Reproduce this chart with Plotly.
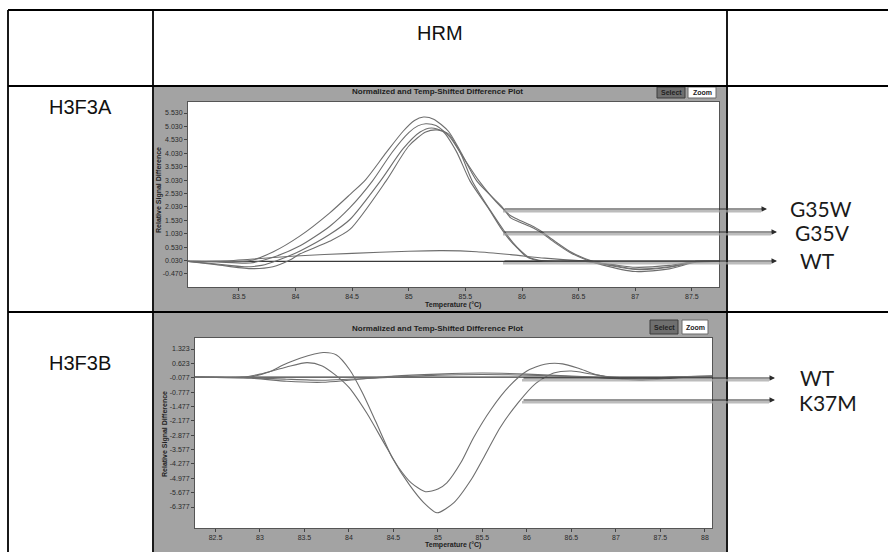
import plotly.graph_objects as go

W, H = 888, 552

# ---------------- data: H3F3A (top plot) ----------------
top_t_base = [83.05, 87.74]
top_s_base = [0.0, 0.0]

top_t_wt = [83.05, 83.3, 83.6, 84.0, 84.5, 85.0, 85.3, 85.6, 85.9, 86.2, 86.5, 86.8, 87.74]
top_s_wt = [0.0, 0.0, 0.08, 0.2, 0.3, 0.38, 0.4, 0.36, 0.25, 0.12, 0.03, 0.0, 0.0]

top_t_w1 = [83.05, 83.3, 83.6, 83.8, 84.04, 84.3, 84.48, 84.62, 84.8, 84.95, 85.05, 85.13, 85.22, 85.35,
            85.45, 85.6, 85.82, 85.9, 85.97, 86.1, 86.16, 86.29, 86.42, 86.56, 86.7, 87.0, 87.3, 87.54, 87.74]
top_s_w1 = [0.0, 0.0, 0.03, 0.35, 0.95, 1.8, 2.49, 3.05, 4.05, 4.85, 5.25, 5.38, 5.3, 4.85,
            4.15, 3.0, 2.05, 1.62, 1.48, 1.24, 1.1, 0.7, 0.34, 0.07, -0.12, -0.38, -0.28, -0.02, 0.0]

top_t_w2 = [83.05, 83.3, 83.6, 83.8, 84.04, 84.3, 84.48, 84.68, 84.85, 85.0, 85.08, 85.15, 85.24, 85.36,
            85.47, 85.62, 85.82, 85.9, 85.97, 86.1, 86.16, 86.29, 86.42, 86.56, 86.7, 87.0, 87.3, 87.54, 87.74]
top_s_w2 = [0.0, -0.02, -0.06, 0.15, 0.58, 1.3, 2.0, 3.0, 4.05, 4.8, 5.05, 5.13, 5.06, 4.65,
            3.95, 3.0, 2.0, 1.7, 1.55, 1.3, 1.15, 0.75, 0.38, 0.1, -0.08, -0.3, -0.22, 0.0, 0.0]

top_t_v1 = [83.05, 83.3, 83.55, 83.7, 83.85, 84.04, 84.3, 84.48, 84.75, 84.95, 85.1, 85.2, 85.3, 85.42,
            85.54, 85.7, 85.82, 85.9, 85.97, 86.03, 86.1, 86.2, 86.56, 86.8, 87.0, 87.3, 87.54, 87.74]
top_s_v1 = [0.0, -0.1, -0.2, -0.15, 0.05, 0.39, 1.0, 1.56, 3.0, 4.2, 4.82, 4.97, 4.85, 4.1,
            3.0, 2.0, 1.2, 0.75, 0.45, 0.2, 0.07, 0.01, 0.0, -0.12, -0.22, -0.15, 0.0, 0.0]

top_t_v2 = [83.05, 83.3, 83.6, 83.8, 83.95, 84.04, 84.3, 84.48, 84.8, 85.0, 85.15, 85.25, 85.35, 85.46,
            85.56, 85.72, 85.84, 85.92, 86.0, 86.06, 86.15, 86.3, 86.56, 86.8, 87.0, 87.3, 87.54, 87.74]
top_s_v2 = [0.0, -0.12, -0.27, -0.2, 0.05, 0.28, 0.75, 1.19, 3.0, 4.3, 4.82, 4.9, 4.75, 4.0,
            3.0, 1.9, 1.15, 0.7, 0.35, 0.15, 0.04, 0.0, 0.0, -0.15, -0.28, -0.2, -0.02, 0.0]

top_x_ticks = [83.5, 84, 84.5, 85, 85.5, 86, 86.5, 87, 87.5]
top_x_labels = ["83.5", "84", "84.5", "85", "85.5", "86", "86.5", "87", "87.5"]
top_y_ticks = [5.53, 5.03, 4.53, 4.03, 3.53, 3.03, 2.53, 2.03, 1.53, 1.03, 0.53, 0.03, -0.47]
top_y_labels = ["5.530", "5.030", "4.530", "4.030", "3.530", "3.030", "2.530", "2.030",
                "1.530", "1.030", "0.530", "0.030", "-0.470"]

# ---------------- data: H3F3B (bottom plot) ----------------
bot_t_base = [82.27, 88.08]
bot_s_base = [-0.05, -0.05]

bot_t_wt1 = [82.27, 82.9, 83.3, 83.7, 84.0, 84.5, 85.0, 85.5, 86.0, 86.5, 87.0, 87.3, 87.7, 88.08]
bot_s_wt1 = [-0.05, -0.1, -0.25, -0.3, -0.2, 0.0, 0.1, 0.15, 0.1, 0.0, -0.1, -0.15, -0.05, 0.0]

bot_t_wt2 = [82.27, 82.9, 83.3, 83.7, 84.0, 84.5, 85.0, 85.5, 86.0, 86.5, 87.0, 87.3, 87.7, 88.08]
bot_s_wt2 = [-0.05, -0.08, -0.15, -0.2, -0.15, -0.05, 0.05, 0.08, 0.05, -0.02, -0.12, -0.2, -0.08, -0.02]

bot_t_k1 = [82.27, 82.8, 83.0, 83.3, 83.53, 83.7, 83.85, 84.0, 84.2, 84.4, 84.55, 84.7, 84.86,
            85.0, 85.1, 85.26, 85.4, 85.6, 85.8, 86.0, 86.2, 86.4, 86.6, 86.8, 87.0, 87.3, 87.6, 88.08]
bot_s_k1 = [-0.05, -0.05, 0.1, 0.45, 0.66, 0.5, 0.05, -0.55, -1.8, -3.3, -4.4, -5.2, -5.63,
            -5.5, -5.2, -4.2, -3.0, -1.6, -0.5, 0.25, 0.58, 0.6, 0.35, 0.05, -0.1, -0.15, -0.05, 0.0]

bot_t_k2 = [82.27, 82.9, 83.1, 83.26, 83.45, 83.71, 83.86, 84.01, 84.15, 84.3, 84.49, 84.68, 84.84,
            84.99, 85.18, 85.38, 85.51, 85.7, 85.9, 86.1, 86.3, 86.5, 86.7, 86.9, 87.2, 87.5, 87.8, 88.08]
bot_s_k2 = [-0.05, -0.03, 0.2, 0.54, 0.87, 1.15, 1.03, 0.3, -0.8, -2.2, -4.0, -5.3, -6.16,
            -6.66, -6.16, -5.0, -4.0, -2.5, -1.3, -0.35, 0.15, 0.25, 0.12, -0.02, -0.1, -0.08, -0.02, 0.0]

bot_x_ticks = [82.5, 83, 83.5, 84, 84.5, 85, 85.5, 86, 86.5, 87, 87.5, 88]
bot_x_labels = ["82.5", "83", "83.5", "84", "84.5", "85", "85.5", "86", "86.5", "87", "87.5", "88"]
bot_y_ticks = [1.323, 0.623, -0.077, -0.777, -1.477, -2.177, -2.877, -3.577, -4.277, -4.977, -5.677, -6.377]
bot_y_labels = ["1.323", "0.623", "-0.077", "-0.777", "-1.477", "-2.177", "-2.877", "-3.577",
                "-4.277", "-4.977", "-5.677", "-6.377"]

row_labels = ["H3F3A", "H3F3B"]
header = "HRM"
top_arrow_labels = ["G35W", "G35V", "WT"]
bot_arrow_labels = ["WT", "K37M"]


def px(x):
    return x / W


def py(y):
    return 1 - y / H


fig = go.Figure()

curve_color = "#6e6e6e"
base_color = "#3a3a3a"

top_series = [(top_t_base, top_s_base, base_color), (top_t_wt, top_s_wt, curve_color),
              (top_t_w1, top_s_w1, curve_color), (top_t_w2, top_s_w2, curve_color),
              (top_t_v1, top_s_v1, curve_color), (top_t_v2, top_s_v2, curve_color)]
for t, s, c in top_series:
    fig.add_trace(go.Scatter(x=t, y=s, mode="lines", xaxis="x", yaxis="y",
                             line=dict(color=c, width=1.1, shape="spline", smoothing=0.7),
                             showlegend=False, hoverinfo="skip"))

bot_series = [(bot_t_base, bot_s_base, base_color), (bot_t_wt1, bot_s_wt1, curve_color),
              (bot_t_wt2, bot_s_wt2, curve_color), (bot_t_k1, bot_s_k1, curve_color),
              (bot_t_k2, bot_s_k2, curve_color)]
for t, s, c in bot_series:
    fig.add_trace(go.Scatter(x=t, y=s, mode="lines", xaxis="x2", yaxis="y2",
                             line=dict(color=c, width=1.1, shape="spline", smoothing=0.7),
                             showlegend=False, hoverinfo="skip"))

tick_font = dict(family="Liberation Sans", size=7, color="#2a2a2a")
axis_common = dict(showgrid=False, zeroline=False, showline=True, linecolor="#555555",
                   linewidth=1, mirror=True, ticks="outside", ticklen=3, tickcolor="#444444",
                   tickfont=tick_font, fixedrange=True)

fig.update_layout(
    width=W, height=H, margin=dict(l=0, r=0, t=0, b=0),
    paper_bgcolor="white", plot_bgcolor="rgba(0,0,0,0)",
    xaxis=dict(domain=[px(188), px(719)], range=[83.05, 87.74], anchor="y",
               tickvals=top_x_ticks, ticktext=top_x_labels, **axis_common),
    yaxis=dict(domain=[py(287), py(102)], range=[-0.955, 5.94], anchor="x",
               tickvals=top_y_ticks, ticktext=top_y_labels, **axis_common),
    xaxis2=dict(domain=[px(195), px(712)], range=[82.27, 88.08], anchor="y2",
                tickvals=bot_x_ticks, ticktext=bot_x_labels, **axis_common),
    yaxis2=dict(domain=[py(528), py(338)], range=[-7.40, 1.859], anchor="x2",
                tickvals=bot_y_ticks, ticktext=bot_y_labels, **axis_common),
)

shapes = []
panel_gray = "#a3a3a3"
# grey software panels
shapes.append(dict(type="rect", xref="paper", yref="paper", x0=px(154), x1=px(726),
                   y0=py(311), y1=py(87), fillcolor=panel_gray, line=dict(width=0), layer="below"))
shapes.append(dict(type="rect", xref="paper", yref="paper", x0=px(154), x1=px(726),
                   y0=py(552), y1=py(313), fillcolor=panel_gray, line=dict(width=0), layer="below"))
# white plot areas
shapes.append(dict(type="rect", xref="paper", yref="paper", x0=px(188), x1=px(719),
                   y0=py(287), y1=py(102), fillcolor="white", line=dict(width=0), layer="below"))
shapes.append(dict(type="rect", xref="paper", yref="paper", x0=px(195), x1=px(712),
                   y0=py(528), y1=py(338), fillcolor="white", line=dict(width=0), layer="below"))

# buttons
for (sx0, sx1, zx0, zx1, by0, by1) in [(657, 685, 688, 716, 87, 98), (650, 678, 682, 708, 320, 334)]:
    shapes.append(dict(type="rect", xref="paper", yref="paper", x0=px(sx0), x1=px(sx1),
                       y0=py(by1), y1=py(by0), fillcolor="#6f6f6f",
                       line=dict(color="#3c3c3c", width=1), layer="below"))
    shapes.append(dict(type="rect", xref="paper", yref="paper", x0=px(zx0), x1=px(zx1),
                       y0=py(by1), y1=py(by0), fillcolor="white",
                       line=dict(color="#6a6a6a", width=1), layer="below"))

# table lines
tl = dict(color="black", width=1.8)
shapes += [
    dict(type="line", xref="paper", yref="paper", x0=px(8), x1=1.0, y0=py(10), y1=py(10), line=tl),
    dict(type="line", xref="paper", yref="paper", x0=px(8), x1=1.0, y0=py(86), y1=py(86), line=tl),
    dict(type="line", xref="paper", yref="paper", x0=px(8), x1=1.0, y0=py(312), y1=py(312), line=tl),
    dict(type="line", xref="paper", yref="paper", x0=px(8), x1=px(8), y0=0, y1=py(10), line=tl),
    dict(type="line", xref="paper", yref="paper", x0=px(153), x1=px(153), y0=0, y1=py(10), line=tl),
    dict(type="line", xref="paper", yref="paper", x0=px(727), x1=px(727), y0=0, y1=py(10), line=tl),
]

# arrow shadows
arrows = [(503, 767, 209), (503, 777, 232), (503, 777, 261), (522, 775, 378), (522, 775, 400)]
for x0, x1, yy in arrows:
    shapes.append(dict(type="line", xref="paper", yref="paper", x0=px(x0), x1=px(x1 - 6),
                       y0=py(yy + 2.2), y1=py(yy + 2.2),
                       line=dict(color="rgba(160,160,160,0.7)", width=2.5)))

fig.update_layout(shapes=shapes)

ann = []
for x0, x1, yy in arrows:
    ann.append(dict(xref="paper", yref="paper", x=px(x1), y=py(yy), ax=-(x1 - x0), ay=0,
                    axref="pixel", ayref="pixel", text="", showarrow=True, arrowhead=2,
                    arrowsize=1.1, arrowwidth=1, arrowcolor="#2b2b2b"))

label_font = dict(family="Lato", size=21, color="#1a1a1a")
for txt, x, y in zip(top_arrow_labels, [788, 793, 798], [208, 232, 260]):
    ann.append(dict(xref="paper", yref="paper", x=px(x), y=py(y), text=txt, showarrow=False,
                    xanchor="left", yanchor="middle", font=label_font))
for txt, x, y in zip(bot_arrow_labels, [798, 797], [377, 402]):
    ann.append(dict(xref="paper", yref="paper", x=px(x), y=py(y), text=txt, showarrow=False,
                    xanchor="left", yanchor="middle", font=label_font))

cell_font = dict(family="Liberation Sans", size=20, color="#111111")
ann.append(dict(xref="paper", yref="paper", x=px(440), y=py(33), text=header, showarrow=False,
                xanchor="center", yanchor="middle", font=cell_font))
for txt, y in zip(row_labels, [107, 363]):
    ann.append(dict(xref="paper", yref="paper", x=px(80), y=py(y), text=txt, showarrow=False,
                    xanchor="center", yanchor="middle", font=cell_font))

small_bold = dict(family="Liberation Sans", size=7, color="#1e1e1e")
for y in [92, 328]:
    ann.append(dict(xref="paper", yref="paper", x=px(437), y=py(y),
                    text="<b>Normalized and Temp-Shifted Difference Plot</b>", showarrow=False,
                    xanchor="center", yanchor="middle",
                    font=dict(family="Liberation Sans", size=8, color="#1e1e1e")))
for y in [305, 545]:
    ann.append(dict(xref="paper", yref="paper", x=px(453), y=py(y), text="<b>Temperature (°C)</b>",
                    showarrow=False, xanchor="center", yanchor="middle", font=small_bold))
for x, y in [(159, 190), (165, 434)]:
    ann.append(dict(xref="paper", yref="paper", x=px(x), y=py(y), text="<b>Relative Signal Difference</b>",
                    showarrow=False, xanchor="center", yanchor="middle", textangle=-90, font=small_bold))
for (sx, zx, by) in [(671, 702, 92.5), (664, 695, 327)]:
    ann.append(dict(xref="paper", yref="paper", x=px(sx), y=py(by), text="<b>Select</b>",
                    showarrow=False, xanchor="center", yanchor="middle",
                    font=dict(family="Liberation Sans", size=7, color="#222222")))
    ann.append(dict(xref="paper", yref="paper", x=px(zx), y=py(by), text="<b>Zoom</b>",
                    showarrow=False, xanchor="center", yanchor="middle",
                    font=dict(family="Liberation Sans", size=7, color="#222222")))

fig.update_layout(annotations=ann)

fig.write_html("out.html")
